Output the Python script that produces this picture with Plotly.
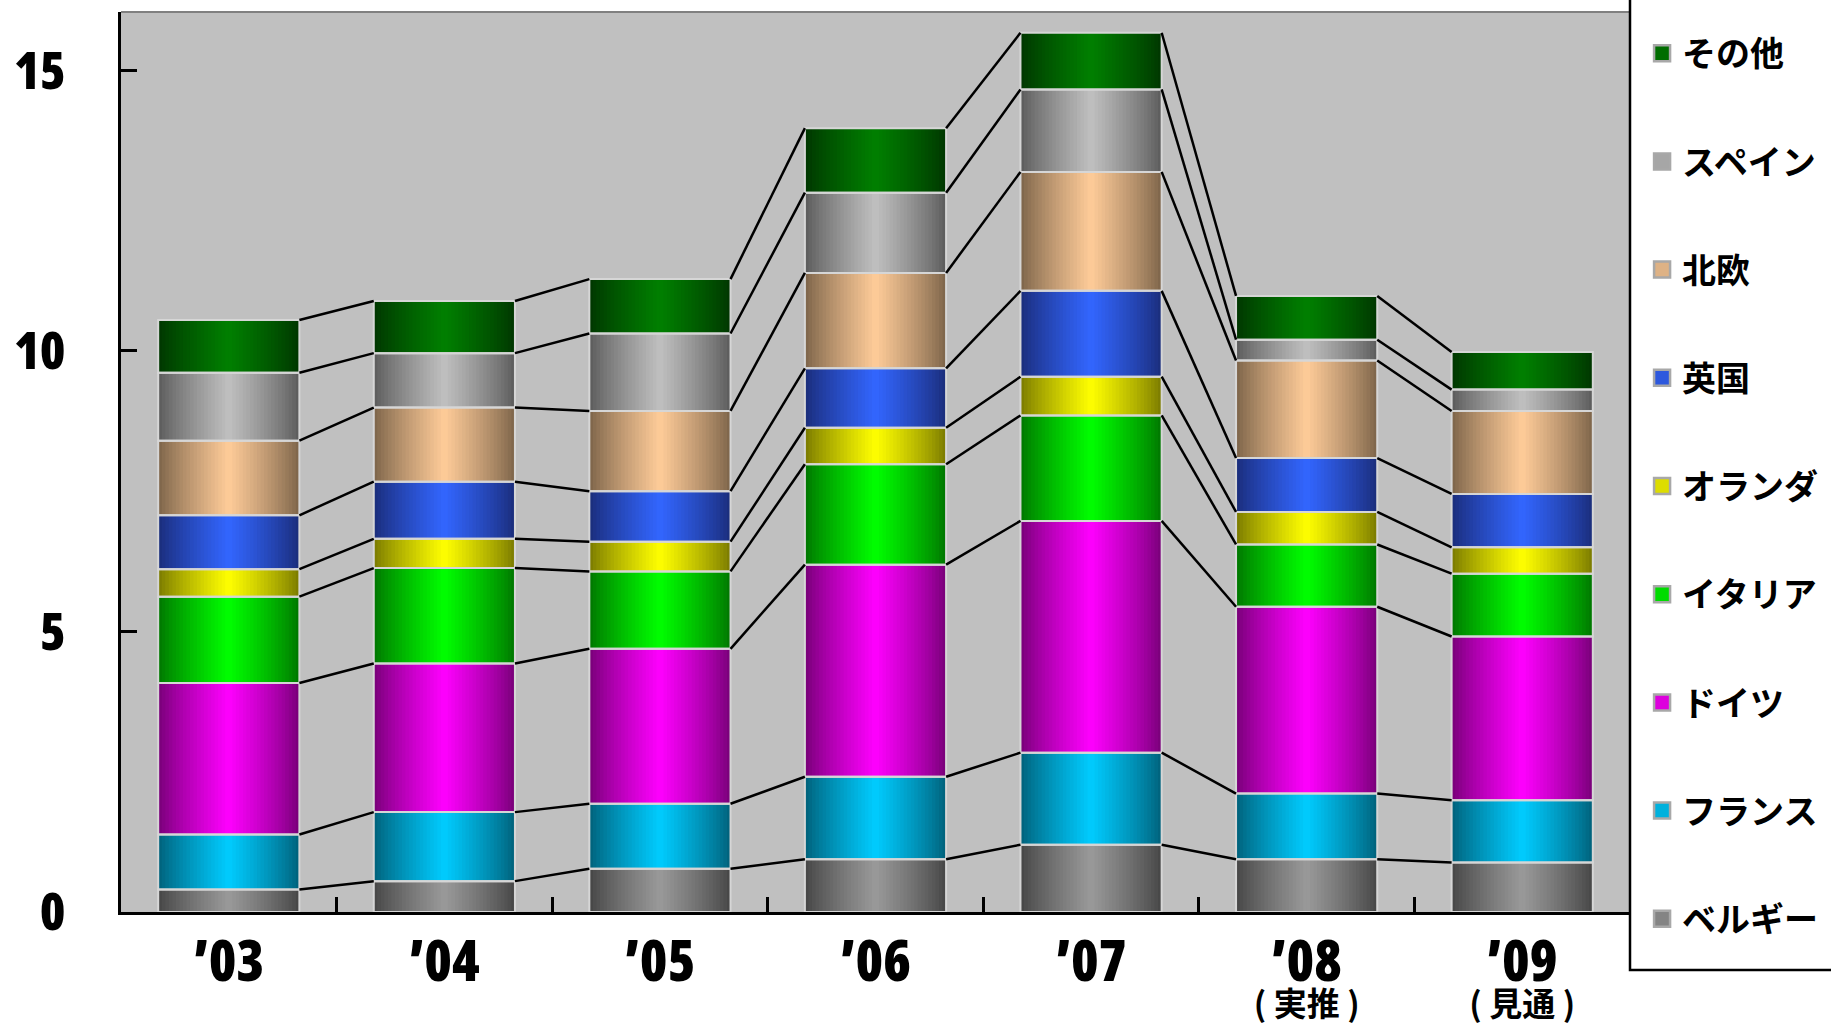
import plotly.graph_objects as go
import numpy as np

# ---------------- data ----------------
years = ["’03", "’04", "’05", "’06", "’07", "’08", "’09"]
year_notes = ["", "", "", "", "", "( 実推 )", "( 見通 )"]

series_names = ["ベルギー", "フランス", "ドイツ", "イタリア", "オランダ",
                "英国", "北欧", "スペイン", "その他"]

belgium = [0.40, 0.55, 0.77, 0.94, 1.20, 0.94, 0.88]
france = [0.98, 1.23, 1.16, 1.47, 1.64, 1.17, 1.11]
germany = [2.70, 2.65, 2.76, 3.78, 4.13, 3.33, 2.92]
italy = [1.54, 1.70, 1.38, 1.79, 1.88, 1.11, 1.12]
netherlands = [0.49, 0.52, 0.53, 0.65, 0.69, 0.58, 0.47]
uk = [0.96, 1.02, 0.90, 1.06, 1.53, 0.96, 0.95]
nordic = [1.33, 1.32, 1.43, 1.70, 2.12, 1.74, 1.48]
spain = [1.21, 0.97, 1.38, 1.43, 1.47, 0.37, 0.38]
others = [0.94, 0.93, 0.97, 1.15, 1.01, 0.78, 0.67]

y_ticks = [0, 5, 10, 15]

# ---------------- style ----------------
center_colors = ["#9A9A9A", "#00CCFF", "#FF00FF", "#00FF00", "#FFFF00",
                 "#3366FF", "#FFCC99", "#C0C0C0", "#008000"]
edge_colors = ["#444444", "#005F78", "#760076", "#007400", "#787800",
               "#1A2C78", "#7A6248", "#5A5A5A", "#003500"]

DIGIT_FONT = "Open Sans, Noto Sans CJK JP"
CJK_FONT = "Noto Sans CJK JP"


def hex2rgb(h):
    h = h.lstrip("#")
    return [int(h[i:i + 2], 16) for i in (0, 2, 4)]


def mix(c1, c2, f):
    a, b = hex2rgb(c1), hex2rgb(c2)
    return "rgb(%d,%d,%d)" % tuple(round(a[i] + (b[i] - a[i]) * f) for i in range(3))


stack = [belgium, france, germany, italy, netherlands, uk, nordic, spain, others]
vals = np.array(stack)
cum = np.cumsum(vals, axis=0)
bases = cum - vals
xpos = np.arange(len(years))

W = 0.655
N = 40
s = W / N

fig = go.Figure()

# gradient-filled stacked bars (thin vertical strips)
for k in range(N):
    t = (k + 0.5) / N
    f = (1 - abs(2 * t - 1)) ** 0.85
    xs, ys, bs, cs = [], [], [], []
    for i in range(len(stack)):
        col = mix(edge_colors[i], center_colors[i], f)
        for j in range(len(years)):
            xs.append(xpos[j])
            ys.append(vals[i][j])
            bs.append(bases[i][j])
            cs.append(col)
    off = -W / 2 + k * s
    wid = min(s * 1.6, W / 2 - off)
    fig.add_trace(go.Bar(x=xs, y=ys, base=bs, offset=off, width=wid,
                         marker=dict(color=cs, line=dict(width=0)),
                         showlegend=False, hoverinfo="skip"))

# segment outlines
for i in range(len(stack)):
    fig.add_trace(go.Bar(x=xpos, y=vals[i], base=bases[i], offset=-W / 2, width=W,
                         marker=dict(color="rgba(0,0,0,0)",
                                     line=dict(color="#D6D6D6", width=2)),
                         showlegend=False, hoverinfo="skip"))

# series lines
for i in range(len(stack)):
    lx, ly = [], []
    for j in range(len(years) - 1):
        lx += [xpos[j] + W / 2, xpos[j + 1] - W / 2, None]
        ly += [cum[i][j], cum[i][j + 1], None]
    fig.add_trace(go.Scatter(x=lx, y=ly, mode="lines",
                             line=dict(color="black", width=2.5),
                             showlegend=False, hoverinfo="skip"))

# legend entries
for i in reversed(range(len(stack))):
    fig.add_trace(go.Scatter(x=[None], y=[None], mode="markers", name=series_names[i],
                             legendgroup=series_names[i],
                             marker=dict(symbol="square", size=20,
                                         color=mix(edge_colors[i], center_colors[i], 0.75),
                                         line=dict(color="#A8A8A8", width=2.5))))

fig.add_trace(go.Scatter(x=[0], y=[0], xaxis="x2", mode="markers",
                         marker=dict(opacity=0), showlegend=False, hoverinfo="skip"))

ticktext = []
for y, n in zip(years, year_notes):
    t = "<span style='font-size:56px;font-stretch:75%%'>%s</span>" % y
    if n:
        t += "<br><span style='font-size:33px;font-family:Noto Sans CJK JP;font-weight:700'>%s</span>" % n
    ticktext.append(t)

fig.update_layout(
    width=1831, height=1030,
    margin=dict(l=121, r=201, t=12, b=118, autoexpand=False),
    paper_bgcolor="white", plot_bgcolor="#C0C0C0",
    barmode="overlay",
    showlegend=True,
    legend=dict(x=1.008, xanchor="left", y=0.986, yanchor="top",
                traceorder="grouped", tracegroupgap=61, maxheight=1030,
                font=dict(family=CJK_FONT, size=34, color="black", weight="bold"),
                bgcolor="rgba(0,0,0,0)", borderwidth=0, itemsizing="trace"),
    xaxis=dict(range=[-0.5, 6.5], tickvals=[j + 0.5 for j in range(len(years) - 1)],
               ticks="inside", ticklen=15, tickwidth=2.5, tickcolor="black",
               showticklabels=False, showline=True, linecolor="black", linewidth=3,
               showgrid=False, zeroline=False, fixedrange=True, automargin=False),
    xaxis2=dict(overlaying="x", anchor="y", side="bottom", range=[-0.5, 6.5],
                tickvals=list(xpos), ticktext=ticktext, ticks="", ticklen=0,
                showline=False, showgrid=False, zeroline=False, automargin=False,
                tickfont=dict(family=DIGIT_FONT, size=27, color="black", weight=800),
                ticklabelstandoff=41),
    yaxis=dict(range=[0, 16.04], tickvals=y_ticks,
               ticktext=["<span style='font-stretch:87.5%%'>%d</span>" % v for v in y_ticks],
               ticks="inside", ticklen=16, tickwidth=2.5, tickcolor="black",
               showline=True, linecolor="black", linewidth=3,
               showgrid=False, zeroline=False, automargin=False,
               tickfont=dict(family=DIGIT_FONT, size=52, color="black", weight=800),
               ticklabelstandoff=42),
    shapes=[
        dict(type="line", xref="paper", yref="paper", x0=0, x1=1, y0=1, y1=1,
             line=dict(color="#808080", width=2), layer="above"),
        dict(type="rect", xref="paper", yref="paper", x0=1.0, x1=1.5, y0=-0.0644, y1=1.3,
             line=dict(color="black", width=2.5), fillcolor="white", layer="above"),
    ],
)

fig.write_html("out.html", config={"displayModeBar": False},
               post_script="document.body.style.margin='0px';")
